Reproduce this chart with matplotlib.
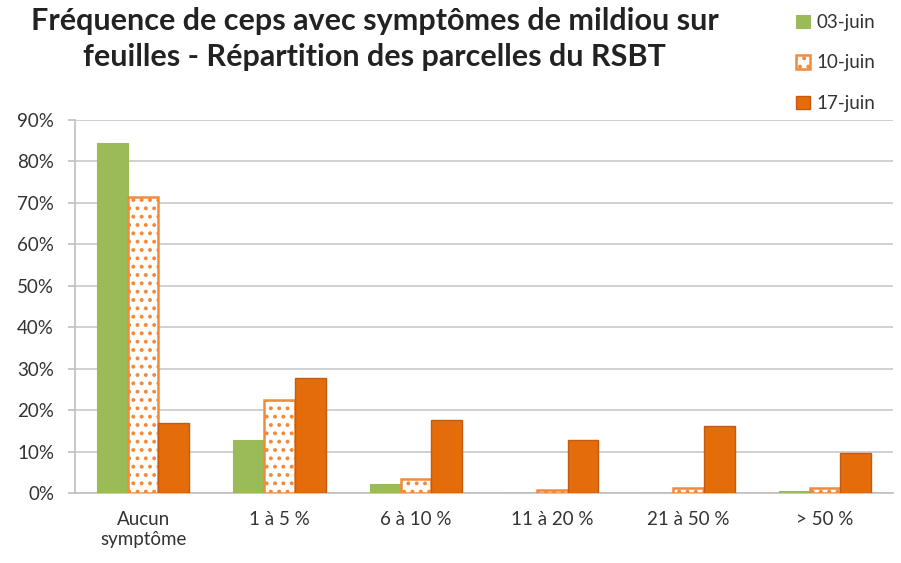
import numpy as np
import matplotlib
matplotlib.use("Agg")
import matplotlib.pyplot as plt
from matplotlib.ticker import PercentFormatter

plt.rcParams['font.family'] = ['Lato', 'DejaVu Sans']
plt.rcParams['hatch.linewidth'] = 1.6

categories = ["Aucun\nsymptôme", "1 à 5 %", "6 à 10 %", "11 à 20 %", "21 à 50 %", "> 50 %"]
series_names = ["03-juin", "10-juin", "17-juin"]
juin03 = [0.845, 0.128, 0.022, 0.0, 0.0, 0.005]
juin10 = [0.715, 0.225, 0.035, 0.008, 0.013, 0.013]
juin17 = [0.170, 0.277, 0.176, 0.128, 0.161, 0.096]

fig = plt.figure(figsize=(9.01, 5.63), dpi=100)
ax = fig.add_axes([0.0832, 0.1243, 0.908, 0.6626])

x = np.arange(len(categories))
w = 0.225
ax.bar(x - w, juin03, w, color="#9BBB59", edgecolor="#9BBB59", linewidth=0.8,
       label=series_names[0], zorder=3)
ax.bar(x, juin10, w, facecolor="white", edgecolor="#F28A3C", hatch="..",
       linewidth=1.8, label=series_names[1], zorder=3)
ax.bar(x + w, juin17, w, color="#E46C0A", edgecolor="#C55A11", linewidth=1.0,
       label=series_names[2], zorder=3)

ax.set_xlim(-0.5, len(categories) - 0.5)
ax.set_ylim(0, 0.9)
ax.set_yticks(np.arange(0, 0.91, 0.1))
ax.yaxis.set_major_formatter(PercentFormatter(1.0, decimals=0))
ax.set_xticks(x)
ax.set_xticklabels(categories)
ax.tick_params(axis='x', length=0, labelsize=13.5, colors="#333333", pad=13)
ax.tick_params(axis='y', length=5, width=1.2, color="#BFBFBF", labelsize=13.5,
               labelcolor="#333333", pad=10)
ax.yaxis.grid(True, color="#C8C8C8", linewidth=1.2, zorder=0)
for s in ["top", "right"]:
    ax.spines[s].set_visible(False)
for s in ["bottom", "left"]:
    ax.spines[s].set_color("#BFBFBF")
    ax.spines[s].set_linewidth(1.2)

fig.text(0.416, 0.988, "Fréquence de ceps avec symptômes de mildiou sur\nfeuilles - Répartition des parcelles du RSBT",
         ha="center", va="top", fontsize=22, fontweight="bold", color="#222222",
         linespacing=1.38)

leg = fig.legend(loc="upper left", bbox_to_anchor=(0.865, 1.005), frameon=False,
                 fontsize=13.5, handlelength=0.75, handleheight=0.75,
                 labelspacing=1.25, handletextpad=0.35, labelcolor="#333333")

fig.savefig("out.png", dpi=100)
